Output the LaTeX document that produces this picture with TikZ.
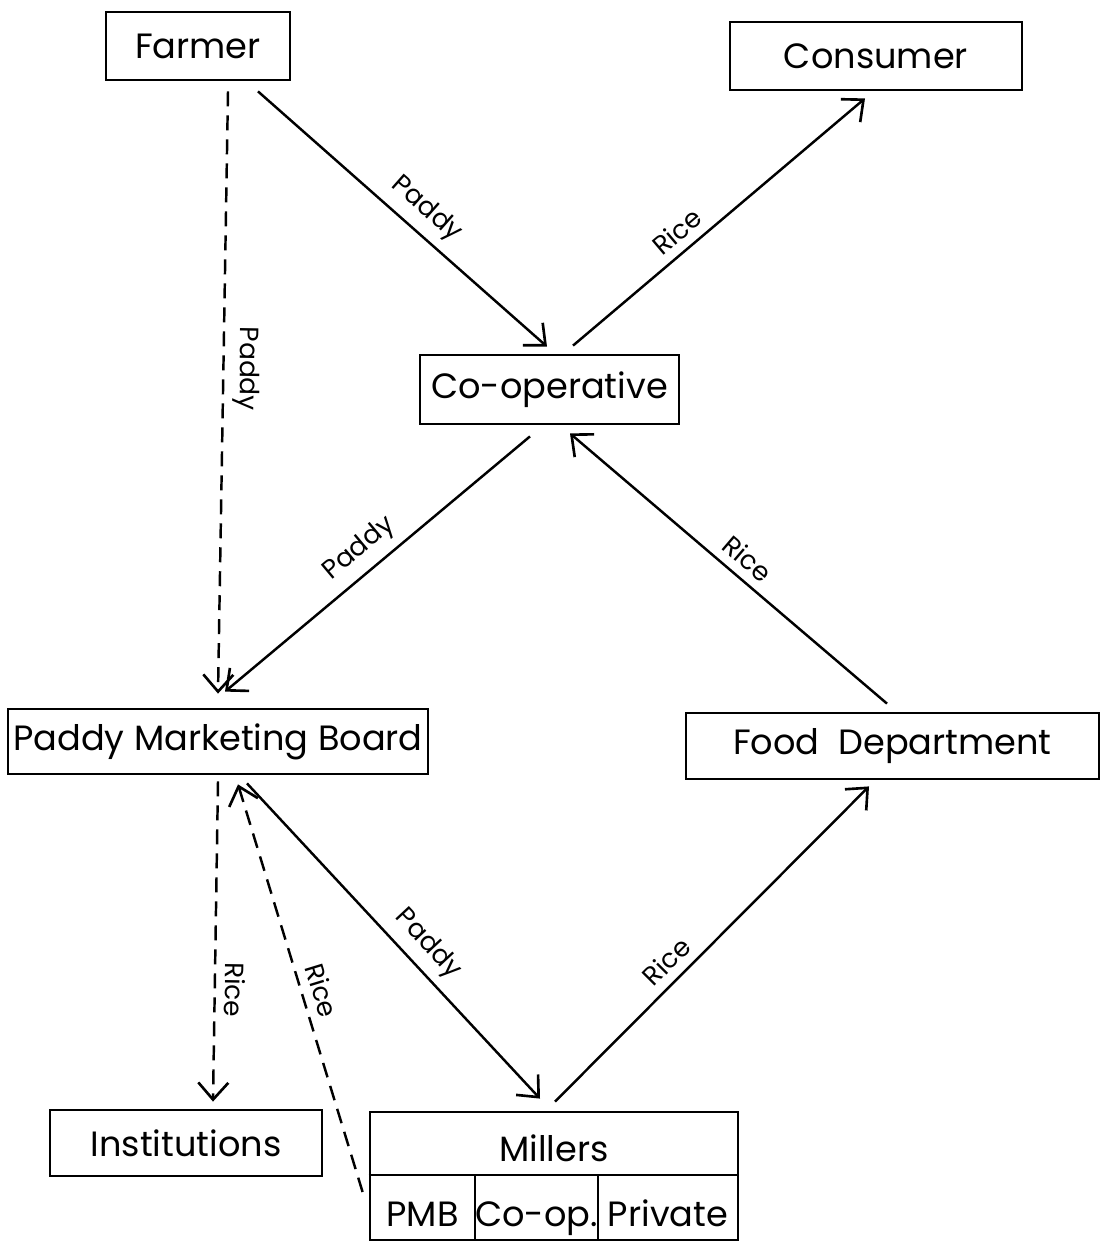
\documentclass[tikz,border=0pt]{standalone}
\usepackage{fontspec}
\setmainfont{Poppins}
\usetikzlibrary{arrows.meta,calc}
\begin{document}
\begin{tikzpicture}[x=0.02cm,y=-0.02cm,
  box/.style={draw,line width=1.6pt,inner sep=0pt,font=\fontsize{20}{24}\selectfont},
  txt/.style={inner sep=0pt,font=\fontsize{20}{24}\selectfont},
  arr/.style={line width=1.4pt,-{Straight Barb[length=3.4mm,width=6mm,line width=1.5pt]}},
  darr/.style={arr,dash pattern=on 3mm off 1.8mm},
  lab/.style={sloped,above,inner sep=5pt,font=\fontsize{15}{18}\selectfont}]
\useasboundingbox (0,0) rectangle (1101,1244);
\node[box,minimum width=184*0.02cm,minimum height=68*0.02cm] (farmer) at (198,46) {Farmer};
\node[box,minimum width=292*0.02cm,minimum height=68*0.02cm] (consumer) at (876,56) {Consumer};
\node[box,minimum width=259*0.02cm,minimum height=69*0.02cm] (coop) at (549.5,389.5) {Co-operative};
\node[box,minimum width=420*0.02cm,minimum height=65*0.02cm] (pmb) at (218,741.5) {Paddy Marketing Board};
\node[box,minimum width=413*0.02cm,minimum height=66*0.02cm] (food) at (892.5,746) {Food\ \ Department};
\node[box,minimum width=272*0.02cm,minimum height=66*0.02cm] (inst) at (186,1143) {Institutions};
\node[box,minimum width=368*0.02cm,minimum height=128*0.02cm] (millers) at (554,1176) {};
\draw[line width=1.6pt] ($(millers.west)+(0,-1)$) coordinate (mw) -- ($(millers.east)+(0,-1)$) coordinate (me);
\draw[line width=1.6pt] (475,1175) coordinate (d1) -- (d1 |- millers.south);
\draw[line width=1.6pt] (598,1175) coordinate (d2) -- (d2 |- millers.south);
\node[txt,anchor=base] (mtitle) at (554,1161) {Millers};
\node[txt,anchor=base] (mpmb) at (422.5,1226) {PMB};
\node[txt,anchor=base] (mcoop) at (536.5,1226) {Co-op.};
\node[txt,anchor=base] (mpriv) at (668,1226) {Private};
% connectors
\draw[arr] ($(farmer.south)+(60,10)$) -- node[lab,pos=0.53]{Paddy} ($(coop.north)+(-2.5,-7)$);
\draw[arr] ($(coop.north)+(23.5,-8)$) -- node[lab,pos=0.4]{Rice} ($(consumer.south)+(-11,7)$);
\draw[darr] ($(farmer.south)+(30,10)$) -- node[lab,allow upside down,pos=0.46]{Paddy} ($(pmb.north)+(0,-14)$);
\draw[arr] ($(coop.south)+(-19.5,11)$) -- node[lab,pos=0.51]{Paddy} ($(pmb.north)+(7,-16)$);
\draw[arr] ($(food.north)+(-5.5,-8)$) -- node[lab,pos=0.48]{Rice} ($(coop.south)+(20.5,8)$);
\draw[darr] ($(pmb.south)+(0,6)$) -- node[lab,allow upside down,pos=0.65]{Rice} ($(inst.north)+(27,-7)$);
\draw[darr] ($(millers.west)+(-6,16)$) -- node[lab,pos=0.48]{Rice} ($(pmb.south)+(20,9)$);
\draw[arr] ($(pmb.south)+(29,8)$) -- node[lab,pos=0.56]{Paddy} ($(millers.north)+(-14,-12)$);
\draw[arr] ($(millers.north)+(1,-9)$) -- node[lab,pos=0.4]{Rice} ($(food.south)+(-23.5,6)$);
\end{tikzpicture}
\end{document}
